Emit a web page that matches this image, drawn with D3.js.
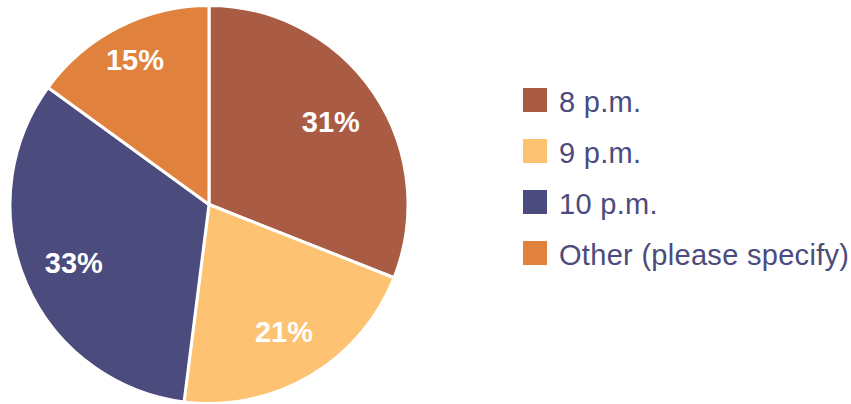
<!DOCTYPE html>
<html>
<head>
<meta charset="utf-8">
<script src="https://cdn.jsdelivr.net/npm/d3@7"></script>
<style>
  html, body { margin: 0; padding: 0; background: #fff; }
  svg { display: block; font-family: "Liberation Sans", Arial, Helvetica, sans-serif; }
</style>
</head>
<body>
<div id="chart"></div>
<script>
// Survey answers: preferred time
const categories = ['8 p.m.', '9 p.m.', '10 p.m.', 'Other (please specify)'];
const shares = [31, 21, 33, 15];
const colors = ['#a95b43', '#fdc372', '#4b4b7d', '#e0823d'];

const width = 851, height = 404;
const cx = 209, cy = 204.5, radius = 199;

const svg = d3.select('#chart')
  .append('svg')
  .attr('width', width)
  .attr('height', height);

const data = categories.map((c, i) => ({ label: c, value: shares[i], color: colors[i] }));
const total = d3.sum(shares);

const pie = d3.pie()
  .value(d => d.value)
  .sort(null);

const arc = d3.arc()
  .innerRadius(0)
  .outerRadius(radius);

const g = svg.append('g')
  .attr('transform', `translate(${cx},${cy})`);

const arcs = pie(data);

g.selectAll('path.slice')
  .data(arcs)
  .enter().append('path')
    .attr('class', 'slice')
    .attr('d', arc)
    .attr('fill', d => d.data.color)
    .attr('stroke', '#fff')
    .attr('stroke-width', 3)
    .attr('stroke-linejoin', 'round');

// small slices get their label pushed a bit further out
function labelPos(d) {
  const frac = d.data.value / total;
  const r = radius * (frac < 0.2 ? 0.82 : 0.74);
  const a = (d.startAngle + d.endAngle) / 2;
  return [r * Math.sin(a), -r * Math.cos(a)];
}

g.selectAll('text.pct')
  .data(arcs)
  .enter().append('text')
    .attr('class', 'pct')
    .attr('x', d => labelPos(d)[0])
    .attr('y', d => labelPos(d)[1])
    .attr('text-anchor', 'middle')
    .attr('dy', '0.36em')
    .attr('fill', '#fff')
    .attr('font-size', 29)
    .attr('font-weight', 'bold')
    .text(d => d.data.value + '%');

// legend
const legend = svg.append('g')
  .attr('transform', 'translate(523,88)');

const rows = legend.selectAll('g.row')
  .data(data)
  .enter().append('g')
    .attr('class', 'row')
    .attr('transform', (d, i) => `translate(0,${i * 51})`);

rows.append('rect')
  .attr('width', 24)
  .attr('height', 24)
  .attr('fill', d => d.color);

rows.append('text')
  .attr('x', 36)
  .attr('y', 24)
  .attr('fill', '#4b4b7d')
  .attr('font-size', 29)
  .attr('letter-spacing', 0.3)
  .text(d => d.label);
</script>
</body>
</html>
